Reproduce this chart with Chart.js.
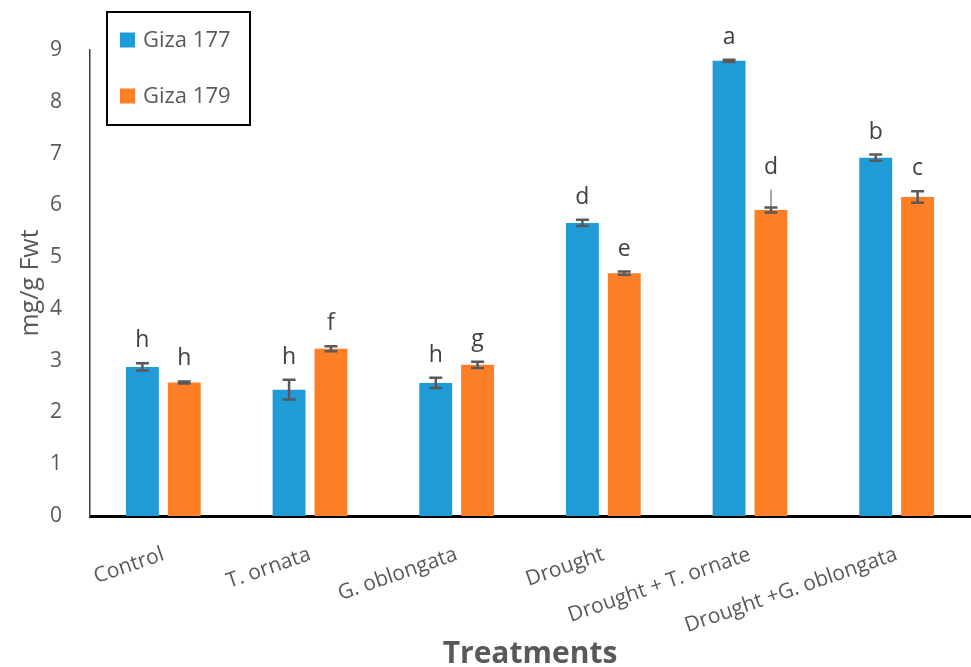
<!DOCTYPE html>
<html>
<head>
<meta charset="utf-8">
<script src="https://cdn.jsdelivr.net/npm/chart.js@4.4.1/dist/chart.umd.min.js"></script>
<style>
  html, body { margin: 0; padding: 0; background: #ffffff; }
  #wrap { width: 971px; height: 667px; position: relative; }
</style>
</head>
<body>
<div id="wrap"><canvas id="c" width="971" height="667"></canvas></div>
<script>
// Treatments and measured values (mg/g Fwt)
const categories = ['Control', 'T. ornata', 'G. oblongata', 'Drought', 'Drought + T. ornate', 'Drought +G. oblongata'];
const seriesNames = ['Giza 177', 'Giza 179'];
const giza177 = [2.88, 2.44, 2.57, 5.66, 8.79, 6.92];
const giza179 = [2.58, 3.23, 2.92, 4.69, 5.91, 6.16];
const giza177Err = [0.07, 0.19, 0.10, 0.06, 0.02, 0.06];
const giza179Err = [0.02, 0.05, 0.06, 0.03, 0.05, 0.11];
// upper whisker drawn in light grey where it runs past the cap
const giza179Upper = [null, null, null, null, 6.30, null];
const giza177Letters = ['h', 'h', 'h', 'd', 'a', 'b'];
const giza179Letters = ['h', 'f', 'g', 'e', 'd', 'c'];
const yTicks = [0, 1, 2, 3, 4, 5, 6, 7, 8, 9];

const FONT = "'Open Sans', 'Noto Sans', sans-serif";
const GREY = '#595959';

const errorBars = {
  id: 'errorBars',
  afterDatasetsDraw(chart) {
    const ctx = chart.ctx;
    const y = chart.scales.y;
    chart.data.datasets.forEach((ds, di) => {
      const meta = chart.getDatasetMeta(di);
      meta.data.forEach((bar, i) => {
        const v = ds.data[i];
        const e = ds.err[i];
        const x = bar.x;
        const yHi = y.getPixelForValue(v + e);
        const yLo = y.getPixelForValue(v - e);
        ctx.save();
        if (ds.upper && ds.upper[i] != null) {
          ctx.strokeStyle = '#a6a6a6';
          ctx.lineWidth = 2;
          ctx.beginPath();
          ctx.moveTo(x, y.getPixelForValue(v));
          ctx.lineTo(x, y.getPixelForValue(ds.upper[i]));
          ctx.stroke();
        }
        ctx.strokeStyle = GREY;
        ctx.lineWidth = 2.5;
        ctx.beginPath();
        ctx.moveTo(x, yHi); ctx.lineTo(x, yLo);
        ctx.moveTo(x - 6.5, yHi); ctx.lineTo(x + 6.5, yHi);
        ctx.moveTo(x - 6.5, yLo); ctx.lineTo(x + 6.5, yLo);
        ctx.stroke();
        // significance letter
        let top = yHi;
        if (ds.upper && ds.upper[i] != null) top = Math.min(top, y.getPixelForValue(ds.upper[i]));
        ctx.fillStyle = '#404040';
        ctx.font = '23px ' + FONT;
        ctx.textAlign = 'center';
        ctx.textBaseline = 'alphabetic';
        ctx.fillText(ds.letters[i], x, top - 16);
        ctx.restore();
      });
    });
  }
};

const boxLegend = {
  id: 'boxLegend',
  afterDraw(chart) {
    const ctx = chart.ctx;
    ctx.save();
    ctx.fillStyle = '#ffffff';
    ctx.fillRect(107, 12, 143, 113);
    ctx.strokeStyle = '#000000';
    ctx.lineWidth = 2;
    ctx.strokeRect(107, 12, 143, 113);
    ctx.font = '22px ' + FONT;
    ctx.textBaseline = 'middle';
    ctx.textAlign = 'left';
    chart.data.datasets.forEach((ds, i) => {
      const cy = 40 + i * 56;
      ctx.fillStyle = ds.backgroundColor;
      ctx.fillRect(120, cy - 7.5, 15, 15);
      ctx.fillStyle = GREY;
      ctx.fillText(ds.label, 143, cy + 1);
    });
    ctx.restore();
  }
};

new Chart(document.getElementById('c'), {
  type: 'bar',
  data: {
    labels: categories,
    datasets: [
      { label: seriesNames[0], data: giza177, err: giza177Err, letters: giza177Letters,
        backgroundColor: '#1F9BD7' },
      { label: seriesNames[1], data: giza179, err: giza179Err, letters: giza179Letters, upper: giza179Upper,
        backgroundColor: '#FF7F27' }
    ]
  },
  options: {
    responsive: false,
    animation: false,
    devicePixelRatio: 1,
    categoryPercentage: 0.571,
    barPercentage: 0.786,
    layout: { padding: { top: 50, right: 1, left: 16, bottom: 0 } },
    plugins: { legend: { display: false }, tooltip: { enabled: false } },
    scales: {
      x: {
        grid: { display: false },
        border: { display: true, color: '#000000', width: 3 },
        ticks: { color: GREY, font: { family: FONT, size: 21 }, minRotation: 19, maxRotation: 19, padding: 18 },
        title: { display: true, text: 'Treatments', color: GREY, font: { family: FONT, size: 30, weight: 'bold' }, padding: { top: 0, bottom: -5 } },
        afterFit(s) { s.height = 151; }
      },
      y: {
        min: 0, max: 9,
        grid: { display: false },
        border: { display: true, color: '#404040', width: 1.5 },
        afterBuildTicks(s) { s.ticks = yTicks.map(v => ({ value: v })); },
        ticks: { color: GREY, font: { family: FONT, size: 21 }, padding: 20 },
        title: { display: true, text: 'mg/g Fwt', color: GREY, font: { family: FONT, size: 25 }, padding: { top: 0, bottom: 0 } },
        afterFit(s) { s.width = 74; }
      }
    }
  },
  plugins: [errorBars, boxLegend]
});
</script>
</body>
</html>
